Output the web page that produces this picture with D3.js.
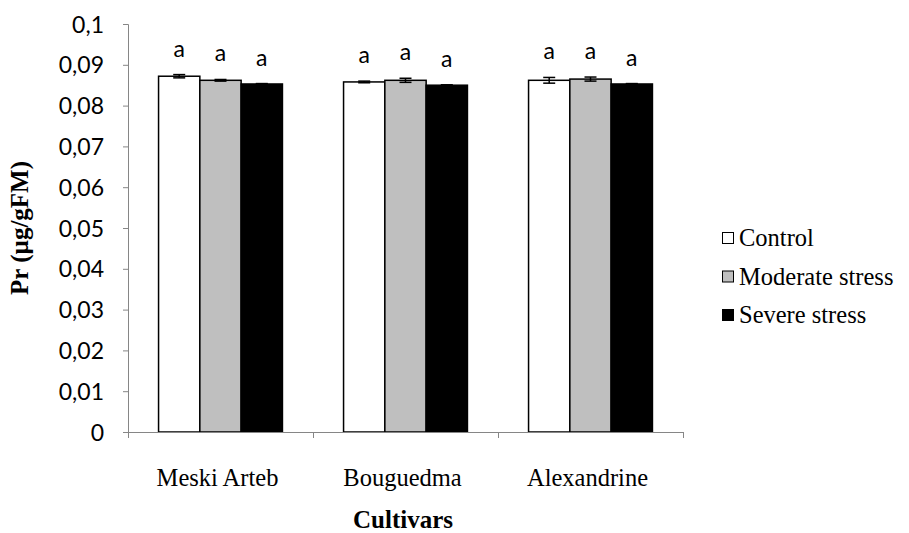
<!DOCTYPE html>
<html><head><meta charset="utf-8">
<script src="https://cdn.jsdelivr.net/npm/d3@7/dist/d3.min.js"></script>
<style>body{margin:0;background:#fff}</style>
</head><body><svg id="c" width="909" height="533"></svg>
<script>
const categories = ["Meski Arteb", "Bouguedma", "Alexandrine"];
const seriesNames = ["Control", "Moderate stress", "Severe stress"];
const seriesColors = ["#ffffff", "#bfbfbf", "#000000"];
const controlValues = [0.0872, 0.0858, 0.0862];
const moderateValues = [0.0862, 0.0862, 0.0865];
const severeValues = [0.0853, 0.0850, 0.0853];
const controlErr = [0.0004, 0.0002, 0.0007];
const moderateErr = [0.0002, 0.0005, 0.0005];
const severeErr = [0.0001, 0.0001, 0.0001];
const letters = [["a","a","a"],["a","a","a"],["a","a","a"]];
const yTicks = [0,0.01,0.02,0.03,0.04,0.05,0.06,0.07,0.08,0.09,0.1];

(function(){
const values = [controlValues, moderateValues, severeValues];
const errs = [controlErr, moderateErr, severeErr];
const svg = d3.select("#c");
const pL = 128, pR = 683, pT = 24, pB = 432;
const serif = "'Liberation Serif', 'Times New Roman', serif";
const sans = "Lato, 'Open Sans', sans-serif";
const x = d3.scaleBand().domain(categories).range([pL, pR]).paddingInner(0).paddingOuter(0);
const inner = d3.scaleBand().domain(seriesNames).range([0, x.bandwidth()]).paddingOuter(0.74).paddingInner(0);
const y = d3.scaleLinear().domain([0, 0.1]).range([pB, pT]);
const axisColor = "#868686";

// y axis
const ya = svg.append("g").attr("transform", `translate(${pL},0)`)
  .call(d3.axisLeft(y).tickValues(yTicks).tickSize(5).tickFormat(d => d3.format(".2~f")(d).replace(".", ",")));
ya.select(".domain").attr("stroke", axisColor).attr("d", `M-5,${pT+0.5}H0.5V${pB}`);
ya.selectAll(".tick line").attr("stroke", axisColor);
ya.selectAll(".tick text").attr("font-family", sans).attr("font-size", 23).attr("fill", "#000").attr("x", -24).attr("dy", "0.35em");

// bars
categories.forEach((c, ci) => {
  seriesNames.forEach((s, si) => {
    const v = values[si][ci], e = errs[si][ci];
    const bx = x(c) + inner(s), bw = inner.bandwidth();
    svg.append("rect").attr("x", bx).attr("y", y(v)).attr("width", bw).attr("height", y(0) - y(v))
      .attr("fill", seriesColors[si]).attr("stroke", "#000").attr("stroke-width", 1.5);
    const cx = bx + bw / 2;
    const ec = "#000";
    svg.append("line").attr("x1", cx).attr("x2", cx).attr("y1", y(v + e)).attr("y2", y(v - e)).attr("stroke", ec).attr("stroke-width", 1.5);
    [v + e, v - e].forEach(t => svg.append("line").attr("x1", cx - 6).attr("x2", cx + 6).attr("y1", y(t)).attr("y2", y(t)).attr("stroke", ec).attr("stroke-width", 1.5));
    svg.append("text").attr("x", cx).attr("y", y(v + e) - 18).attr("text-anchor", "middle")
      .attr("font-family", sans).attr("font-size", 23).text(letters[ci][si]);
  });
});

// x axis
const xa = svg.append("g").attr("transform", `translate(0,${pB})`);
xa.append("line").attr("x1", pL).attr("x2", pR).attr("y1", 0.5).attr("y2", 0.5).attr("stroke", axisColor);
const bounds = categories.map(c => x(c)).concat([pR]);
bounds.forEach(b => xa.append("line").attr("x1", b + 0.5).attr("x2", b + 0.5).attr("y1", 0).attr("y2", 6).attr("stroke", axisColor));
categories.forEach(c => xa.append("text").attr("x", x(c) + x.bandwidth() / 2 - 3).attr("y", 54).attr("text-anchor", "middle")
  .attr("font-family", serif).attr("font-size", 24.5).text(c));

// axis titles
svg.append("text").attr("x", 403).attr("y", 528).attr("text-anchor", "middle")
  .attr("font-family", serif).attr("font-weight", "bold").attr("font-size", 25).text("Cultivars");
svg.append("text").attr("transform", `translate(28,228) rotate(-90)`).attr("text-anchor", "middle")
  .attr("font-family", serif).attr("font-weight", "bold").attr("font-size", 25).text("Pr (µg/gFM)");

// legend
const lg = svg.append("g").attr("transform", "translate(722,238)");
seriesNames.forEach((s, i) => {
  const g = lg.append("g").attr("transform", `translate(0,${i * 38.5})`);
  g.append("rect").attr("x", 0.5).attr("y", -5.5).attr("width", 11).attr("height", 11).attr("fill", seriesColors[i]).attr("stroke", "#000");
  g.append("text").attr("x", 17).attr("y", 0).attr("dy", "0.33em").attr("font-family", serif).attr("font-size", 24.5).text(s);
});
})();
</script></body></html>
